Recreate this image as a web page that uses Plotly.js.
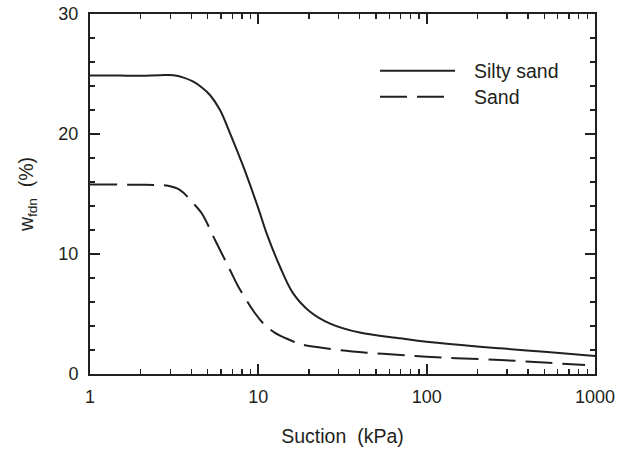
<!DOCTYPE html>
<html>
<head>
<meta charset="utf-8">
<script src="https://cdn.plot.ly/plotly-3.0.1.min.js"></script>
<style>html,body{margin:0;padding:0;background:#fff}#chart{width:630px;height:451px}</style>
</head>
<body>
<div id="chart"></div>
<script>
// Suction (kPa) and w_fdn (%)
const siltySandSuction = [1, 1.5, 2, 2.61, 3.13, 3.6, 4.11, 4.6, 5.16, 5.92, 6.79, 8.15, 10, 11.2, 13.45, 16.1, 20.3, 26.7, 40, 70, 100, 273, 500, 1000];
const siltySandW       = [24.88, 24.87, 24.86, 24.9, 24.9, 24.7, 24.36, 23.9, 23.25, 22.0, 20.06, 17.28, 13.8, 11.72, 8.94, 6.72, 5.19, 4.2, 3.45, 2.97, 2.69, 2.14, 1.85, 1.5];

const sandSuction = [1, 1.5, 2, 2.49, 2.86, 3.43, 4.11, 4.61, 5.53, 6.79, 7.61, 9.56, 10.7, 12.5, 15.4, 17.7, 23.3, 30, 44, 70, 100, 150, 273, 500, 873];
const sandW       = [15.8, 15.78, 15.77, 15.75, 15.7, 15.33, 14.22, 13.39, 11.17, 8.67, 7.28, 5.06, 4.22, 3.45, 2.83, 2.5, 2.2, 2.0, 1.78, 1.58, 1.44, 1.32, 1.17, 0.95, 0.75];

const seriesNames = ['Silty sand', 'Sand'];
const xTitle = 'Suction\u00a0\u00a0(kPa)';
const yTitle = 'w<sub>fdn</sub>\u00a0\u00a0(%)';

const ink = '#231f20';
const fontFam = '"Liberation Sans", Arial, sans-serif';

const traces = [
  {x: siltySandSuction, y: siltySandW, name: seriesNames[0], mode: 'lines',
   line: {color: ink, width: 2, shape: 'spline', smoothing: 1}},
  {x: sandSuction, y: sandW, name: seriesNames[1], mode: 'lines',
   line: {color: ink, width: 2, dash: '27px,10px', shape: 'spline', smoothing: 1}}
];

const L = 90, R = 595, T = 14, B = 374;
const px = v => (v - L) / (R - L);
const py = v => (B - v) / (B - T);

const layout = {
  width: 630, height: 451,
  margin: {l: L, r: 630 - R, t: T, b: 451 - B},
  paper_bgcolor: '#fff', plot_bgcolor: '#fff',
  showlegend: false,
  font: {family: fontFam, color: ink, size: 18},
  xaxis: {
    type: 'log', range: [0, 3], tickmode: 'linear', tick0: 0, dtick: 1,
    exponentformat: 'none',
    ticks: 'inside', ticklen: 10, tickwidth: 2, tickcolor: ink,
    ticklabelstandoff: 5,
    showline: true, linewidth: 2, linecolor: ink, mirror: 'allticks',
    showgrid: false, zeroline: false,
    tickfont: {size: 18, color: ink},
    minor: {ticks: 'inside', ticklen: 5, tickwidth: 1.5, tickcolor: ink, dtick: 'D1', showgrid: false},
    title: {text: xTitle, font: {size: 19.5, color: ink}, standoff: 24}
  },
  yaxis: {
    range: [0, 30], tickmode: 'linear', tick0: 0, dtick: 10,
    ticks: 'inside', ticklen: 10, tickwidth: 2, tickcolor: ink,
    ticklabelstandoff: 6,
    showline: true, linewidth: 2, linecolor: ink, mirror: 'allticks',
    showgrid: false, zeroline: false,
    tickfont: {size: 18, color: ink},
    minor: {ticks: 'inside', ticklen: 5, tickwidth: 1.5, tickcolor: ink, dtick: 2, showgrid: false},
    title: {text: yTitle, font: {size: 19.5, color: ink}, standoff: 20}
  },
  shapes: [
    {type: 'line', xref: 'paper', yref: 'paper', x0: px(380), x1: px(455), y0: py(70.7), y1: py(70.7),
     line: {color: ink, width: 2}},
    {type: 'line', xref: 'paper', yref: 'paper', x0: px(380), x1: px(445), y0: py(96.7), y1: py(96.7),
     line: {color: ink, width: 2, dash: '27px,10px'}}
  ],
  annotations: [
    {xref: 'paper', yref: 'paper', x: px(472), y: py(70.7), xanchor: 'left', yanchor: 'middle',
     text: seriesNames[0], showarrow: false, font: {size: 19.5, color: ink}},
    {xref: 'paper', yref: 'paper', x: px(472), y: py(96.7), xanchor: 'left', yanchor: 'middle',
     text: seriesNames[1], showarrow: false, font: {size: 19.5, color: ink}}
  ]
};

Plotly.newPlot('chart', traces, layout, {staticPlot: true, displayModeBar: false});
</script>
</body>
</html>
